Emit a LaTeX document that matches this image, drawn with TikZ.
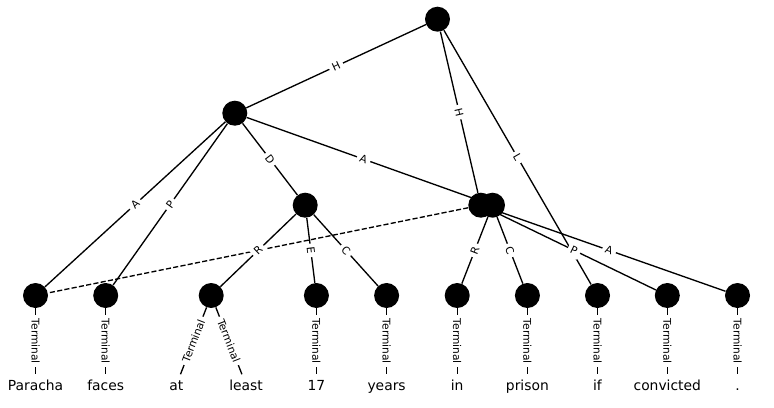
\documentclass[tikz,border=0pt]{standalone}
\usepackage{fontspec}
\setmainfont{DejaVu Sans}
\begin{document}
\begin{tikzpicture}[x=0.75pt,y=-0.75pt,
  vert/.style={circle,fill=black,draw=none,minimum size=18.75pt,inner sep=0pt},
  word/.style={anchor=base,inner sep=4pt,text height=7.6pt,font=\fontsize{10.4}{12}\selectfont},
  lbl/.style={sloped,midway,fill=white,inner sep=2.5pt,font=\fontsize{8}{9}\selectfont},
  edge/.style={line width=1pt},
  remote/.style={edge,dash pattern=on 3.85pt off 1.7pt}]
\useasboundingbox (0,0) rectangle (774,407);

% nodes
\node[vert] (root) at (437.5,19.2) {};
\node[vert] (n1) at (234.8,113.2) {};
\node[vert] (n2) at (305.2,205.2) {};
\node[vert] (n3a) at (480.8,205.2) {};
\node[vert] (n3b) at (492.5,205.2) {};

\node[vert] (t1) at (35.5,295.5) {};
\node[vert] (t2) at (105.7,295.5) {};
\node[vert] (t3) at (211.2,295.5) {};
\node[vert] (t5) at (316.4,295.5) {};
\node[vert] (t6) at (386.6,295.5) {};
\node[vert] (t7) at (457.2,295.5) {};
\node[vert] (t8) at (527.4,295.5) {};
\node[vert] (t9) at (597.5,295.5) {};
\node[vert] (t10) at (667.3,295.5) {};
\node[vert] (t11) at (737.5,295.5) {};

\node[word] (w1) at (35.5,390) {Paracha};
\node[word] (w2) at (105.7,390) {faces};
\node[word] (w3) at (176.3,390) {at};
\node[word] (w4) at (246.1,390) {least};
\node[word] (w5) at (316.4,390) {17};
\node[word] (w6) at (386.6,390) {years};
\node[word] (w7) at (457.2,390) {in};
\node[word] (w8) at (527.4,390) {prison};
\node[word] (w9) at (597.5,390) {if};
\node[word] (w10) at (667.3,390) {convicted};
\node[word] (w11) at (737.5,390) {.};

% edges drawn first so that later labels cover them
\draw[remote] (n3a) -- (t1);
\draw[edge] (root) -- node[lbl] {L} (t9);

\draw[edge] (root) -- node[lbl] {H} (n1);
\draw[edge] (root) -- node[lbl] {H} (n3a);
\draw[edge] (n1) -- node[lbl] {A} (t1);
\draw[edge] (n1) -- node[lbl] {P} (t2);
\draw[edge] (n1) -- node[lbl] {D} (n2);
\draw[edge] (n1) -- node[lbl] {A} (n3b);
\draw[edge] (n2) -- node[lbl] {R} (t3);
\draw[edge] (n2) -- node[lbl] {E} (t5);
\draw[edge] (n2) -- node[lbl] {C} (t6);
\draw[edge] (n3b) -- node[lbl] {R} (t7);
\draw[edge] (n3b) -- node[lbl] {C} (t8);
\draw[edge] (n3a) -- node[lbl] {P} (t10);
\draw[edge] (n3a) -- node[lbl] {A} (t11);

% terminal edges
\draw[edge] (t1) -- node[lbl] {Terminal} (w1);
\draw[edge] (t2) -- node[lbl] {Terminal} (w2);
\draw[edge] (t3) -- node[lbl] {Terminal} (w3);
\draw[edge] (t3) -- node[lbl] {Terminal} (w4);
\draw[edge] (t5) -- node[lbl] {Terminal} (w5);
\draw[edge] (t6) -- node[lbl] {Terminal} (w6);
\draw[edge] (t7) -- node[lbl] {Terminal} (w7);
\draw[edge] (t8) -- node[lbl] {Terminal} (w8);
\draw[edge] (t9) -- node[lbl] {Terminal} (w9);
\draw[edge] (t10) -- node[lbl] {Terminal} (w10);
\draw[edge] (t11) -- node[lbl] {Terminal} (w11);
\end{tikzpicture}
\end{document}
